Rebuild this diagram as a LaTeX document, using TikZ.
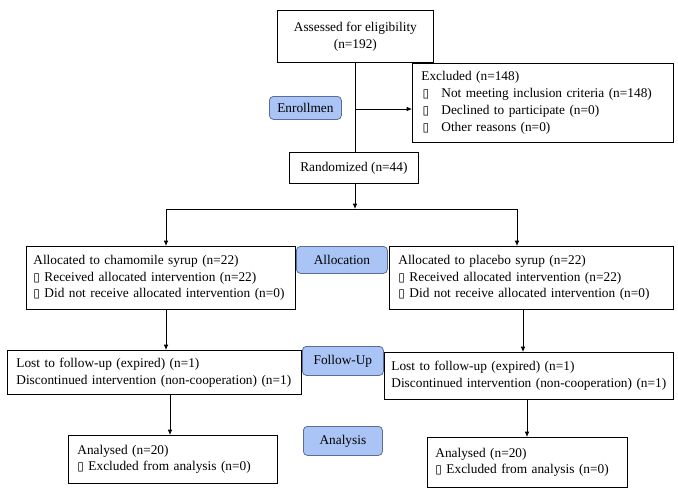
\documentclass[tikz,border=0pt]{standalone}
\usepackage{fontspec}
\setmainfont{Liberation Serif}
\newfontfamily\symfont{DejaVu Sans}
\usetikzlibrary{arrows.meta}
\definecolor{stagefill}{HTML}{A9C4F5}
\definecolor{stagedraw}{HTML}{5A6E95}
\newcommand{\bx}{{\symfont\fontsize{9pt}{9pt}\selectfont ▯}}
\newcommand{\bitem}{\makebox[15pt][l]{\hspace*{1pt}\bx}}
\begin{document}
\begin{tikzpicture}[x=0.75pt,y=-0.75pt,
  every node/.style={font=\fontsize{10pt}{12.6pt}\selectfont},
  flowbox/.style={draw=black,line width=0.6pt,rectangle,fill=white,anchor=north west,align=left,inner ysep=0pt},
  cbox/.style={draw=black,line width=0.6pt,rectangle,fill=white,anchor=north west,align=center,inner sep=0pt},
  stage/.style={draw=stagedraw,fill=stagefill,line width=0.6pt,rounded corners=3pt,anchor=north west,inner sep=0pt,align=center},
  conn/.style={line width=0.6pt},
  arr/.style={line width=0.6pt,-{Latex[length=4pt,width=3.5pt]}}]
\useasboundingbox (0,0) rectangle (678,497);
% boxes
\node[cbox,minimum width=117pt,minimum height=39pt] (assess) at (277,10) {Assessed for eligibility\\(n=192)};
\node[flowbox,inner xsep=6.75pt,text width=182.25pt,minimum height=59.25pt] (excl) at (412,63)
 {Excluded (n=148)\\\bitem Not meeting inclusion criteria (n=148)\\\bitem Declined to participate (n=0)\\\bitem Other reasons (n=0)};
\node[stage,minimum width=54pt,minimum height=17.25pt] (enroll) at (269,96) {Enrollmen};
\node[cbox,minimum width=96.75pt,minimum height=23.25pt] (rand) at (289,152) {Randomized (n=44)};
\node[flowbox,inner xsep=5.25pt,text width=191.25pt,minimum height=47.25pt] (allocL) at (26,246)
 {Allocated to chamomile syrup (n=22)\\\bx\ Received allocated intervention (n=22)\\\bx\ Did not receive allocated intervention (n=0)};
\node[stage,minimum width=68.25pt,minimum height=20.25pt] (alloc) at (296,246) {Allocation};
\node[flowbox,inner xsep=6.75pt,text width=199.5pt,minimum height=47.25pt] (allocR) at (389,246)
 {Allocated to placebo syrup (n=22)\\\bx\ Received allocated intervention (n=22)\\\bx\ Did not receive allocated intervention (n=0)};
\node[flowbox,inner xsep=6.75pt,text width=207pt,minimum height=33pt] (fuL) at (7,350)
 {Lost to follow-up (expired) (n=1)\\Discontinued intervention (non-cooperation) (n=1)};
\node[stage,minimum width=60.75pt,minimum height=21.75pt] (follow) at (302,346) {Follow-Up};
\node[flowbox,inner xsep=5.25pt,text width=206.25pt,minimum height=35.25pt] (fuR) at (384,352)
 {Lost to follow-up (expired) (n=1)\\Discontinued intervention (non-cooperation) (n=1)};
\node[flowbox,inner xsep=6.75pt,text width=143.25pt,minimum height=36pt] (anL) at (68,435)
 {Analysed (n=20)\\\bx\ Excluded from analysis (n=0)};
\node[stage,minimum width=59.25pt,minimum height=21.75pt] (analysis) at (303,426) {Analysis};
\node[flowbox,inner xsep=6pt,text width=138pt,minimum height=37.5pt] (anR) at (427,437)
 {Analysed (n=20)\\\bx\ Excluded from analysis (n=0)};
% connectors
\coordinate (j1) at (355,109);
\coordinate (split) at (355,209);
\coordinate (sL) at (166,209);
\coordinate (sR) at (517,209);
\draw[conn] (355,62) -- (355,152);
\draw[arr] (j1) -- (j1 -| excl.west);
\draw[arr] (rand.south -| split) -- (split);
\draw[conn] (sL) -- (sR);
\draw[arr] (sL) -- (sL |- allocL.north);
\draw[arr] (sR) -- (sR |- allocR.north);
\draw[arr] (166,309) -- (166,350);
\draw[arr] (523,309) -- (523,352);
\draw[arr] (170,394) -- (170,435);
\draw[arr] (527,399) -- (527,437);
\end{tikzpicture}
\end{document}
